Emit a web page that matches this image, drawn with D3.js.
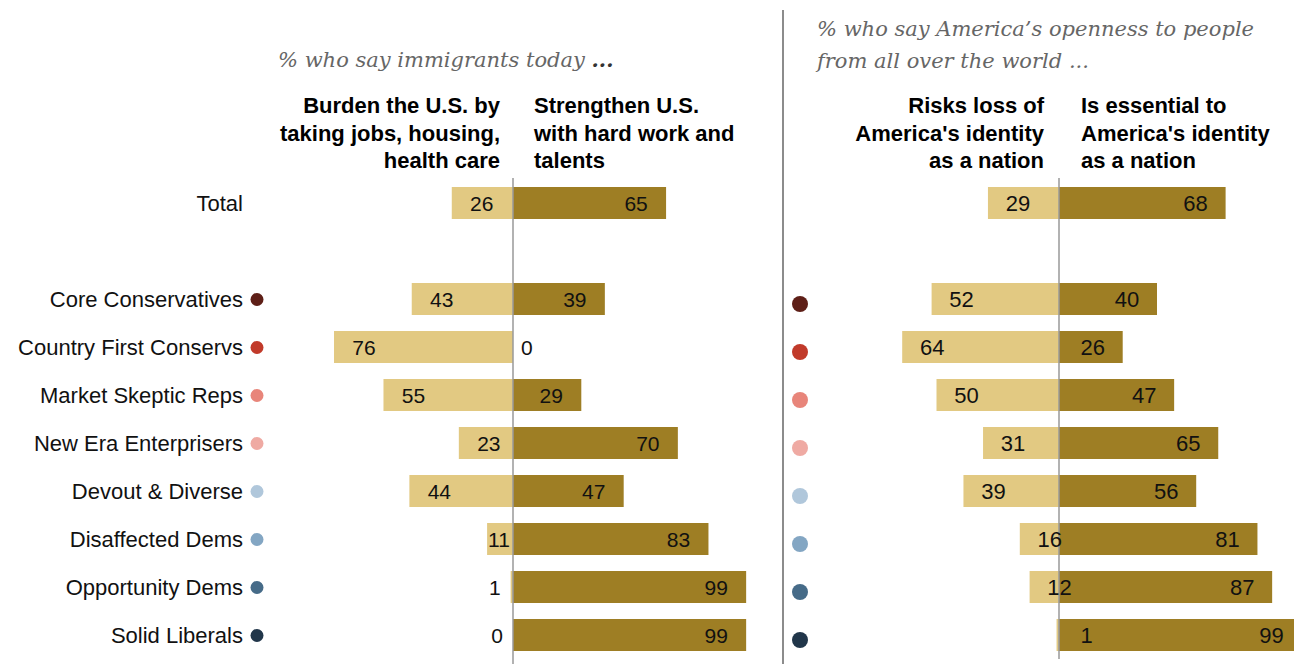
<!DOCTYPE html>
<html><head><meta charset="utf-8">
<script src="https://cdn.jsdelivr.net/npm/d3@7"></script>
<style>
html,body{margin:0;padding:0;background:#fff;}
svg{display:block;}
</style></head>
<body>
<svg id="chart" width="1294" height="664"></svg>
<script>
// ---- data ----
const groups = ["Total","Core Conservatives","Country First Conservs","Market Skeptic Reps","New Era Enterprisers","Devout & Diverse","Disaffected Dems","Opportunity Dems","Solid Liberals"];
const burden = [26,43,76,55,23,44,11,1,0];
const strengthen = [65,39,0,29,70,47,83,99,99];
const risksLoss = [29,52,64,50,31,39,16,12,1];
const essential = [68,40,26,47,65,56,81,87,99];
const leftSubtitle = "% who say immigrants today";
const rightSubtitle = ["% who say America\u2019s openness to people","from all over the world ..."];
const leftHeadNeg = ["Burden the U.S. by","taking jobs, housing,","health care"];
const leftHeadPos = ["Strengthen U.S.","with hard work and","talents"];
const rightHeadNeg = ["Risks loss of","America's identity","as a nation"];
const rightHeadPos = ["Is essential to","America's identity","as a nation"];

// ---- style ----
const dotColors = [null,"#5E1F17","#C13A2A","#E8857A","#EFAAA3","#B0C7DB","#83A6C3","#466B88","#21364A"];
const LIGHT = "#E2C982", DARK = "#9E7E24";
const SANS = "'Liberation Sans', Arial, sans-serif";
const SERIF = "'DejaVu Serif', Georgia, serif";

const svg = d3.select("#chart");
const rows = [groups[0], "_gap", ...groups.slice(1)];
const y = d3.scalePoint().domain(rows).range([203, 635]);
const barH = 32;

const L = {cx: 513, x: d3.scaleLinear().domain([0,100]).range([0,235.5])};
const R = {cx: 1059, x: d3.scaleLinear().domain([0,100]).range([0,245])};

// separator
svg.append("line").attr("x1",783).attr("x2",783).attr("y1",10).attr("y2",664)
  .attr("stroke","#8c8c8c").attr("stroke-width",2);

// subtitles
const ls = svg.append("text").attr("x",278).attr("y",67).attr("font-family",SERIF).attr("font-style","italic")
  .attr("font-size",21).attr("fill","#666");
ls.append("tspan").text(leftSubtitle + " ");
ls.append("tspan").attr("font-weight","bold").attr("fill","#333").text("...");
rightSubtitle.forEach((t,i)=>svg.append("text").attr("x",817).attr("y",36+i*32).attr("font-family",SERIF)
  .attr("font-style","italic").attr("font-size",21).attr("fill","#666").text(t));

function heads(lines, x, anchor){
  lines.forEach((t,i)=>svg.append("text").attr("x",x).attr("y",113+i*27.5).attr("text-anchor",anchor)
    .attr("font-family",SANS).attr("font-weight","bold").attr("font-size",22).attr("fill","#000").text(t));
}
heads(leftHeadNeg, 500, "end");
heads(leftHeadPos, 534, "start");
heads(rightHeadNeg, 1044, "end");
heads(rightHeadPos, 1081, "start");

// category labels and dots
groups.forEach((g,i)=>{
  svg.append("text").attr("x",243).attr("y",y(g)+7.5).attr("text-anchor","end")
    .attr("font-family",SANS).attr("font-size",22).attr("fill","#111").text(g);
  if(dotColors[i]){
    svg.append("circle").attr("cx",257).attr("cy",y(g)+0.5).attr("r",6.5).attr("fill",dotColors[i]);
    svg.append("circle").attr("cx",800).attr("cy",y(g)+5).attr("r",8).attr("fill",dotColors[i]);
  }
});

function panel(P, neg, pos, fontSize, clampLeft){
  const g = svg.append("g");
  groups.forEach((name,i)=>{
    const cy = y(name);
    g.append("rect").attr("x",P.cx - P.x(neg[i])).attr("y",cy-barH/2).attr("width",P.x(neg[i])).attr("height",barH)
      .attr("fill",LIGHT);
    g.append("rect").attr("x",P.cx).attr("y",cy-barH/2).attr("width",P.x(pos[i])).attr("height",barH)
      .attr("fill",DARK);
  });
  g.append("line").attr("x1",P.cx).attr("x2",P.cx).attr("y1",178).attr("y2",clampLeft?664:659)
    .attr("stroke","#999").attr("stroke-width",1.5);
  groups.forEach((name,i)=>{
    const cy = y(name);
    const bl = P.cx - P.x(neg[i]);
    let lx = bl + 30, la = "middle";
    if(clampLeft){
      if(neg[i] < 5){ lx = bl - 10; la = "end"; }
      else if(bl + 42 > P.cx){ lx = bl + 1; la = "start"; }
    }
    g.append("text").attr("x",lx).attr("y",cy+7.5).attr("text-anchor",la)
      .attr("font-family",SANS).attr("font-size",fontSize).attr("fill","#111").text(neg[i]);
    const be = P.cx + P.x(pos[i]);
    let px = be - 30, pa = "middle";
    if(pos[i] === 0){ px = P.cx + 8; pa = "start"; }
    g.append("text").attr("x",px).attr("y",cy+7.5).attr("text-anchor",pa)
      .attr("font-family",SANS).attr("font-size",fontSize).attr("fill","#111").text(pos[i]);
  });
}
panel(L, burden, strengthen, 21, true);
panel(R, risksLoss, essential, 22, false);
</script>
</body></html>
